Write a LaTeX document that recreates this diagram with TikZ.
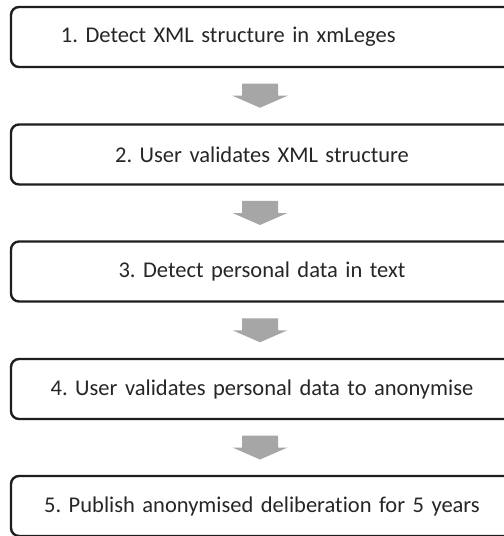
\documentclass[tikz,border=0pt]{standalone}
\usepackage{fontspec}
\setmainfont{Carlito}[Ligatures=NoCommon]
\frenchspacing
\usetikzlibrary{calc}
\definecolor{edge}{HTML}{1E1E1E}
\definecolor{ink}{HTML}{262626}
\definecolor{flow}{HTML}{A6A6A6}
\tikzset{
  stepbox/.style={draw=edge, line width=2.4bp, rounded corners=8bp, fill=white,
    minimum width=502bp, minimum height=60bp, text=ink,
    font=\fontsize{22.5bp}{27bp}\selectfont},
  centred/.style={align=center, text width=494bp, inner xsep=4bp},
  leftset/.style={align=left, text width=402bp, inner xsep=50bp},
  downarrow/.pic={
    \fill[flow] (-18,-12) -- (18,-12) -- (18,0) -- (27.5,0) -- (0,12)
      -- (-27.5,0) -- (-18,0) -- cycle;
  }
}
\begin{document}
\begin{tikzpicture}[x=1bp, y=-1bp]
  \useasboundingbox (0,0) rectangle (504,536);
  \clip (0,0) rectangle (504,536);
  \fill[white] (0,0) rectangle (504,536);

  \node[stepbox, leftset] (s1) at (262,37)    {1. Detect XML structure in xmLeges};
  \node[stepbox, centred] (s2) at (262,154.5) {2. User validates XML structure};
  \node[stepbox, centred] (s3) at (262,271.5) {3. Detect personal data in text};
  \node[stepbox, centred] (s4) at (262,389)   {4. User validates personal data to anonymise};
  \node[stepbox, centred] (s5) at (262,506)   {5. Publish anonymised deliberation for 5 years};

  % block arrows midway between consecutive steps
  \foreach \a/\b in {s1/s2, s2/s3, s3/s4, s4/s5} {
    \coordinate (m-\a) at ($(\a.south)!0.5!(\b.north)$);
    \pic at ([xshift=-2bp]m-\a) {downarrow};
  }
\end{tikzpicture}
\end{document}
